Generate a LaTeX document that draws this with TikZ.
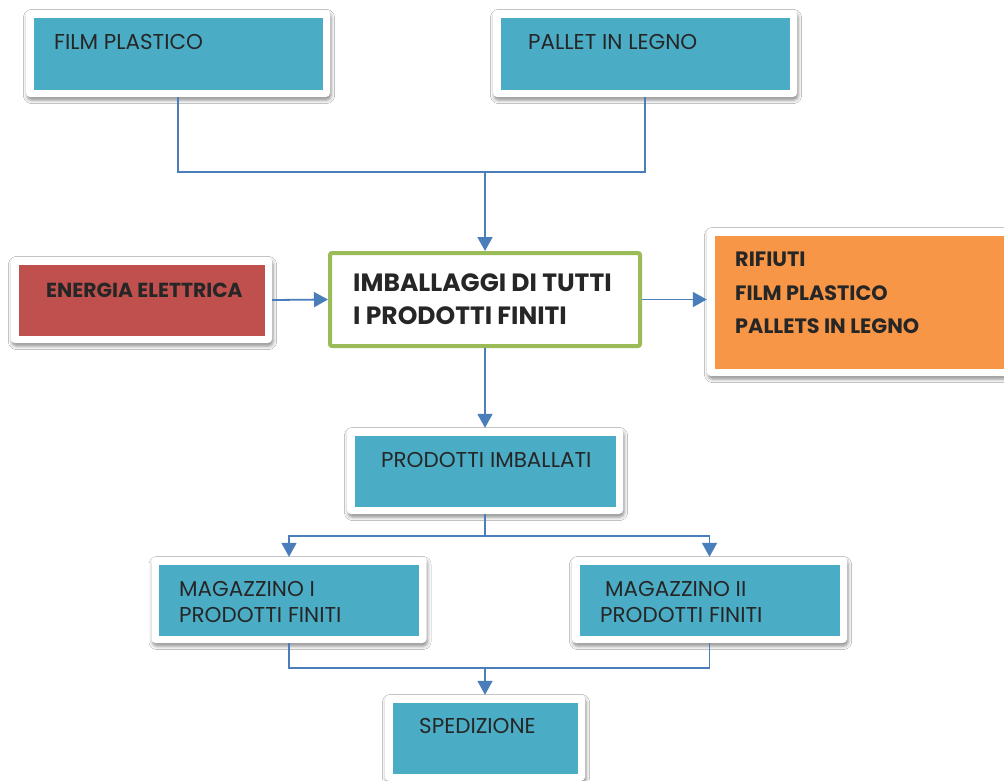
\documentclass[tikz,border=0pt]{standalone}
\usepackage{fontspec}
\setmainfont{Poppins}
\usetikzlibrary{arrows.meta,shadows.blur}

\definecolor{boxblue}{HTML}{4BACC6}
\definecolor{boxred}{HTML}{C0504D}
\definecolor{boxorange}{HTML}{F79646}
\definecolor{boxgreen}{HTML}{9BBB59}
\definecolor{linkblue}{HTML}{4A7EBB}
\definecolor{ink}{HTML}{262626}

\tikzset{
  x=1pt, y=-1pt,
  card/.style={
    fill=white, rounded corners=4pt, inner sep=0pt,
    blur shadow={shadow xshift=1pt, shadow yshift=-3pt,
                 shadow blur radius=3.5pt, shadow opacity=45},
    path picture={
      \fill[#1, sharp corners]
        ([xshift=7.5pt,yshift=7.5pt]path picture bounding box.south west)
        rectangle
        ([xshift=-7.5pt,yshift=-7.5pt]path picture bounding box.north east);
    }
  },
  mainbox/.style={draw=boxgreen, line width=4pt, fill=white,
    rounded corners=2pt, inner sep=0pt},
  lbl/.style={anchor=base west, inner sep=0pt, text=ink,
    font=\fontsize{21.5}{26}\selectfont},
  blbl/.style={lbl, font=\fontsize{20.3}{24}\selectfont\bfseries},
  link/.style={draw=linkblue, line width=1.8pt},
  flow/.style={link, -{Triangle[width=15pt,length=14pt]}}
}

\begin{document}
\begin{tikzpicture}
\clip (0,0) rectangle (1004,780);
\fill[white] (0,0) rectangle (1004,780);

% input materials
\node[card=boxblue, minimum width=304pt, minimum height=87pt] (film) at (178,53.5) {};
\node[card=boxblue, minimum width=304pt, minimum height=87pt] (pallet) at (645,53.5) {};
\node[lbl] (film-t) at (54,49) {FILM PLASTICO};
\node[lbl] (pallet-t) at (528,49) {PALLET IN LEGNO};

% energy input
\node[card=boxred, minimum width=261pt, minimum height=86pt] (energia) at (141.5,300) {};
\node[blbl] (energia-t) at (46,297) {ENERGIA ELETTRICA};

% packaging process
\node[mainbox, minimum width=310pt, minimum height=93pt] (imb) at (485,299.5) {};
\node[blbl, font=\fontsize{25}{30}\selectfont\bfseries] (imb-t1) at (353,291) {IMBALLAGGI DI TUTTI};
\node[blbl, font=\fontsize{25}{30}\selectfont\bfseries] (imb-t2) at (353,324) {I PRODOTTI FINITI};

% waste output
\node[card=boxorange, minimum width=305pt, minimum height=148pt] (rifiuti) at (859.5,302) {};
\node[blbl, font=\fontsize{20.8}{24}\selectfont\bfseries] (rif-t1) at (735,266) {RIFIUTI};
\node[blbl, font=\fontsize{20.8}{24}\selectfont\bfseries] (rif-t2) at (735,300) {FILM PLASTICO};
\node[blbl, font=\fontsize{20.8}{24}\selectfont\bfseries] (rif-t3) at (735,333) {PALLETS IN LEGNO};

% packed products
\node[card=boxblue, minimum width=276pt, minimum height=86pt] (prod) at (485,471) {};
\node[lbl] (prod-t) at (381,467) {PRODOTTI IMBALLATI};

% warehouses
\node[card=boxblue, minimum width=275pt, minimum height=86pt] (mag1) at (289,600) {};
\node[lbl] (mag1-t1) at (179,596) {MAGAZZINO I};
\node[lbl] (mag1-t2) at (179,622) {PRODOTTI FINITI};
\node[card=boxblue, minimum width=275pt, minimum height=86pt] (mag2) at (709.5,600) {};
\node[lbl] (mag2-t1) at (605,596) {MAGAZZINO II};
\node[lbl] (mag2-t2) at (600,622) {PRODOTTI FINITI};

% shipping
\node[card=boxblue, minimum width=200pt, minimum height=86pt] (sped) at (485,738) {};
\node[lbl] (sped-t) at (419,733) {SPEDIZIONE};

% connectors
\coordinate (j1) at (485,172);
\coordinate (j2) at (485,536);
\coordinate (j3) at (485,668);

\draw[link] (film.south) |- (j1);
\draw[link] (pallet.south) |- (j1);
\draw[flow] (j1) -- (imb.north);
\draw[flow] (energia.east) -- (imb.west);
\draw[flow] (imb.east) -- (imb.east -| rifiuti.west);
\draw[flow] (imb.south) -- (prod.north);
\draw[link] (prod.south) -- (j2);
\draw[flow] (j2) -| (mag1.north);
\draw[flow] (j2) -| (mag2.north);
\draw[link] (mag1.south) |- (j3);
\draw[link] (mag2.south) |- (j3);
\draw[flow] (j3) -- (sped.north);
\end{tikzpicture}
\end{document}
